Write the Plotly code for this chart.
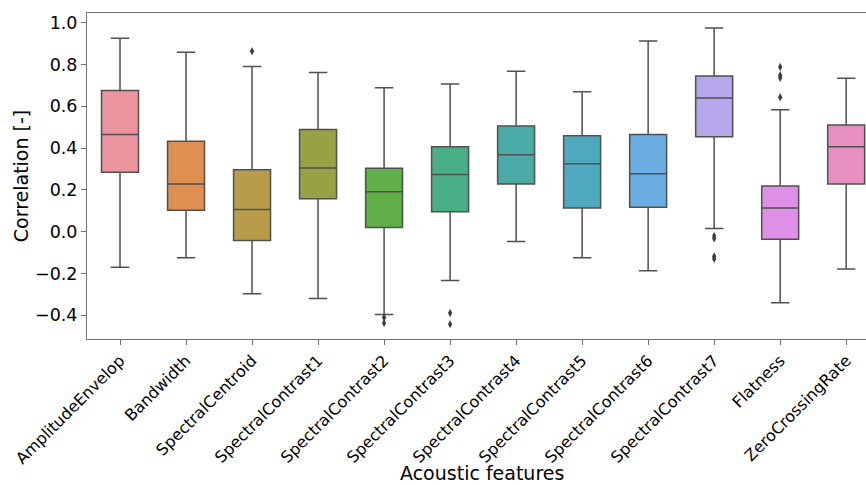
import plotly.graph_objects as go

features = ["AmplitudeEnvelop", "Bandwidth", "SpectralCentroid", "SpectralContrast1",
            "SpectralContrast2", "SpectralContrast3", "SpectralContrast4", "SpectralContrast5",
            "SpectralContrast6", "SpectralContrast7", "Flatness", "ZeroCrossingRate"]

lower_whisker = [-0.170, -0.124, -0.297, -0.319, -0.396, -0.233, -0.047, -0.124, -0.187, 0.015, -0.340, -0.178]
q1 = [0.284, 0.103, -0.042, 0.158, 0.020, 0.096, 0.228, 0.114, 0.117, 0.454, -0.036, 0.228]
median = [0.465, 0.228, 0.106, 0.305, 0.191, 0.274, 0.368, 0.325, 0.277, 0.639, 0.114, 0.406]
q3 = [0.675, 0.433, 0.296, 0.489, 0.303, 0.406, 0.506, 0.459, 0.465, 0.745, 0.219, 0.510]
upper_whisker = [0.925, 0.858, 0.790, 0.761, 0.688, 0.707, 0.768, 0.669, 0.912, 0.974, 0.583, 0.734]

outlier_feature = ["SpectralCentroid", "SpectralContrast2", "SpectralContrast2",
                   "SpectralContrast3", "SpectralContrast3",
                   "SpectralContrast7", "SpectralContrast7", "SpectralContrast7", "SpectralContrast7",
                   "Flatness", "Flatness", "Flatness", "Flatness"]
outlier_value = [0.863, -0.410, -0.437, -0.389, -0.442,
                 -0.020, -0.032, -0.118, -0.130,
                 0.788, 0.748, 0.736, 0.643]

box_colors = ["#E9949F", "#E08F52", "#B89C4A", "#97A146", "#5FAE47", "#4AAE86",
              "#4AABA7", "#4FA9BE", "#6AADE0", "#B6A6EC", "#DF8FE7", "#E78FC3"]

line_gray = "#505050"
font_family = "DejaVu Sans, Liberation Sans, sans-serif"

fig = go.Figure()
for i, name in enumerate(features):
    fig.add_trace(go.Box(
        x=[name],
        q1=[q1[i]], median=[median[i]], q3=[q3[i]],
        lowerfence=[lower_whisker[i]], upperfence=[upper_whisker[i]],
        fillcolor=box_colors[i],
        line=dict(color=line_gray, width=1.5),
        whiskerwidth=0.5,
        boxpoints=False,
        showlegend=False,
        hoverinfo="skip",
    ))

fig.add_trace(go.Scatter(
    x=outlier_feature, y=outlier_value, mode="markers",
    marker=dict(symbol="diamond-tall", size=6, color="#3d3d3d", line=dict(width=0)),
    showlegend=False, hoverinfo="skip",
))

fig.update_layout(
    width=866, height=485,
    margin=dict(l=87, r=0, t=13, b=146),
    paper_bgcolor="white", plot_bgcolor="white",
    boxgap=0.2, boxmode="overlay",
    font=dict(family=font_family, size=18, color="#000000"),
    annotations=[dict(
        text="Acoustic features", xref="paper", yref="paper",
        x=0.507, y=0, yshift=-147, showarrow=False,
        xanchor="center", yanchor="bottom",
        font=dict(family=font_family, size=19, color="#000000"),
    )],
)

fig.update_xaxes(
    type="category", categoryorder="array", categoryarray=features,
    range=[-0.5, 11.3],
    showline=True, linecolor="#707070", linewidth=1, mirror=True,
    ticks="outside", ticklen=5, tickwidth=1, tickcolor="#707070",
    tickangle=-45, tickfont=dict(size=16),
    showgrid=False, zeroline=False,
)

fig.update_yaxes(
    range=[-0.513, 1.046],
    tickvals=[-0.4, -0.2, 0.0, 0.2, 0.4, 0.6, 0.8, 1.0], tickformat=".1f",
    showline=True, linecolor="#707070", linewidth=1,
    ticks="outside", ticklen=5, tickwidth=1, tickcolor="#707070",
    tickfont=dict(size=17.5),
    showgrid=False, zeroline=False,
    title=dict(text="Correlation [-]", font=dict(size=19), standoff=1),
)

fig.write_html("out.html")
